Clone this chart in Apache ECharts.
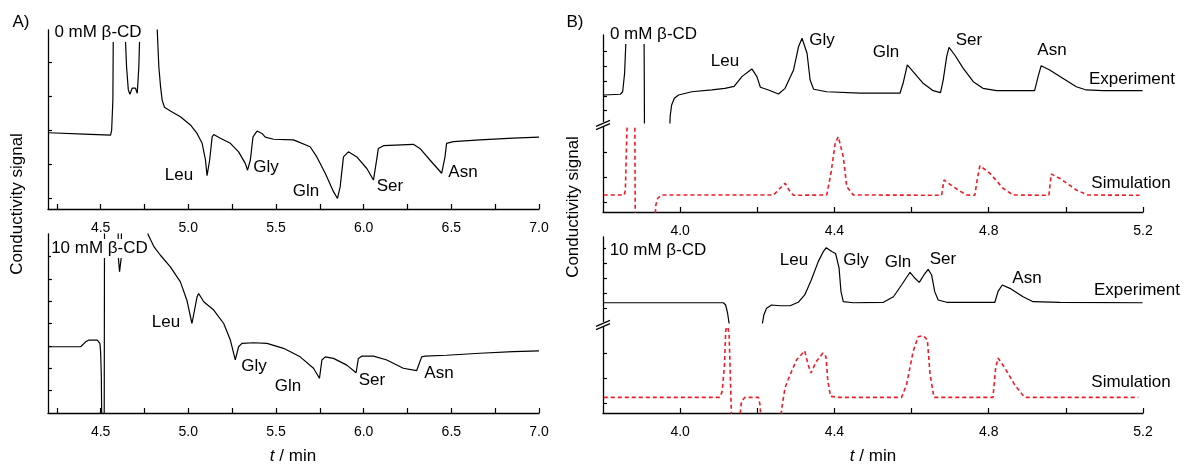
<!DOCTYPE html>
<html>
<head>
<meta charset="utf-8">
<script src="https://cdn.jsdelivr.net/npm/echarts@6/dist/echarts.min.js"></script>
<style>
  html, body { margin: 0; padding: 0; background: #fff; }
  #chart { width: 1184px; height: 467px; }
</style>
</head>
<body>
<div id="chart"></div>
<script>
// Conductivity electropherograms of five amino acids, without and with 10 mM β-CD.
// Each trace is a list of [t (min), conductivity signal (a.u.)].
// Values beyond an axis range run off the plot and are clipped there.

// A) 0 mM β-CD, experiment
const traceA0 = [
  [4.206,1.92],[4.405,1.88],[4.557,1.85],[4.563,2.00],[4.570,2.88],[4.572,4.60],[4.575,9],[4.640,9],
  [4.642,4.60],[4.648,3.86],[4.658,3.18],[4.667,3.05],[4.680,3.23],[4.690,3.27],[4.699,3.23],[4.709,3.08],
  [4.718,3.86],[4.722,4.60],[4.725,9],[4.820,9],[4.823,4.94],[4.832,3.86],[4.842,3.27],[4.851,2.88],
  [4.864,2.67],[4.898,2.56],[4.955,2.39],[5.012,2.15],[5.050,1.90],[5.079,1.61],[5.098,1.12],[5.107,0.66],
  [5.122,1.12],[5.136,1.80],[5.145,1.87],[5.183,1.76],[5.240,1.61],[5.287,1.36],[5.325,1.02],[5.338,0.82],
  [5.354,1.12],[5.369,1.80],[5.392,1.97],[5.420,1.90],[5.439,1.79],[5.486,1.73],[5.600,1.71],[5.695,1.51],
  [5.733,1.21],[5.781,0.73],[5.828,0.19],[5.851,-0.01],[5.866,0.33],[5.885,1.21],[5.913,1.36],[5.961,1.21],
  [6.018,0.87],[6.056,0.53],[6.071,1.02],[6.084,1.46],[6.113,1.54],[6.283,1.58],[6.321,1.46],[6.378,1.12],
  [6.445,0.73],[6.464,1.21],[6.473,1.61],[6.511,1.66],[6.663,1.71],[6.852,1.76],[7.000,1.79]
];

// A) 10 mM β-CD, experiment
const traceA10 = [
  [4.206,2.96],[4.386,2.96],[4.415,3.18],[4.433,3.26],[4.481,3.26],[4.496,3.11],[4.500,2.74],[4.504,1.70],
  [4.506,0],[4.508,-3],[4.520,-3],[4.523,12],[4.598,12],[4.601,6.98],[4.608,6.31],[4.618,6.98],[4.621,12],
  [4.765,12],[4.770,7.99],[4.805,7.42],[4.841,7.05],[4.898,6.53],[4.955,5.86],[4.992,5.04],[5.021,4.00],
  [5.024,3.97],[5.050,5.19],[5.059,5.34],[5.088,4.97],[5.145,4.60],[5.202,4.00],[5.240,3.26],[5.268,2.37],
  [5.287,2.96],[5.306,3.11],[5.373,3.14],[5.449,3.11],[5.543,2.89],[5.638,2.51],[5.714,2.00],[5.748,1.55],
  [5.762,2.37],[5.781,2.51],[5.828,2.44],[5.904,2.14],[5.957,1.80],[5.970,2.44],[5.989,2.54],[6.056,2.54],
  [6.132,2.37],[6.226,2.00],[6.302,1.89],[6.331,2.51],[6.350,2.54],[6.473,2.58],[6.663,2.67],[6.852,2.74],
  [7.000,2.78]
];

// B) 0 mM β-CD, experiment
const traceB0Exp = [
  [3.802,2.06],[3.845,2.11],[3.851,2.28],[3.856,3.53],[3.859,5.44],[3.861,9],[3.906,9],[3.908,-3],
  [3.971,-3],[3.974,0.59],[3.978,1.39],[3.985,1.84],[3.996,2.06],[4.030,2.28],[4.082,2.40],[4.116,2.51],
  [4.140,2.64],[4.160,3.30],[4.186,3.82],[4.199,3.30],[4.208,2.58],[4.229,2.40],[4.255,2.13],[4.272,2.51],
  [4.294,3.75],[4.307,5.32],[4.316,5.89],[4.329,4.88],[4.337,3.07],[4.346,2.45],[4.380,2.28],[4.466,2.18],
  [4.570,2.18],[4.578,2.85],[4.589,4.09],[4.604,3.64],[4.630,2.85],[4.656,2.35],[4.675,2.22],[4.682,3.07],
  [4.691,4.65],[4.697,5.28],[4.712,4.76],[4.734,3.86],[4.760,2.96],[4.785,2.51],[4.820,2.35],[4.919,2.35],
  [4.928,3.30],[4.936,4.04],[4.958,3.75],[4.992,3.19],[5.027,2.62],[5.053,2.40],[5.096,2.35],[5.199,2.35]
];

// B) 0 mM β-CD, simulation
const traceB0Sim = [
  [3.802,1.27],[3.855,1.27],[3.858,1.47],[3.862,3.87],[3.864,4.07],[3.866,6],[3.882,6],[3.884,-1],
  [3.934,-1],[3.936,0.60],[3.937,0.87],[3.942,1.14],[3.952,1.27],[4.151,1.27],[4.242,1.27],[4.259,1.54],
  [4.272,1.74],[4.285,1.40],[4.294,1.26],[4.380,1.27],[4.391,2.14],[4.402,3.34],[4.410,3.60],[4.423,2.80],
  [4.432,1.60],[4.449,1.27],[4.678,1.26],[4.684,1.87],[4.708,1.60],[4.742,1.27],[4.764,1.26],[4.770,1.87],
  [4.777,2.44],[4.803,2.14],[4.837,1.54],[4.863,1.27],[4.956,1.26],[4.962,2.11],[4.984,1.94],[5.027,1.47],
  [5.057,1.27],[5.191,1.26]
];

// B) 10 mM β-CD, experiment
const traceB10Exp = [
  [3.802,1.35],[4.112,1.35],[4.118,1.20],[4.123,0.65],[4.127,-0.02],[4.129,-1.5],[4.212,-1.5],[4.213,-0.07],
  [4.217,0.53],[4.224,0.98],[4.237,1.20],[4.259,1.15],[4.285,1.15],[4.306,1.38],[4.323,1.87],[4.340,2.87],
  [4.358,4.09],[4.371,4.75],[4.379,5.02],[4.393,4.77],[4.403,4.63],[4.408,4.67],[4.412,3.67],[4.417,2.09],
  [4.423,1.42],[4.449,1.35],[4.527,1.38],[4.553,1.75],[4.574,2.53],[4.596,3.38],[4.609,2.98],[4.620,2.71],
  [4.632,3.20],[4.643,3.58],[4.652,3.20],[4.660,2.09],[4.669,1.53],[4.691,1.38],[4.816,1.38],[4.824,2.09],
  [4.835,2.53],[4.855,2.31],[4.889,1.75],[4.915,1.42],[4.984,1.38],[5.199,1.35]
];

// B) 10 mM β-CD, simulation
const traceB10Sim = [
  [3.802,1.23],[4.103,1.23],[4.109,1.47],[4.115,2.54],[4.118,3.87],[4.122,4.22],[4.127,3.74],[4.130,2.14],
  [4.133,0.47],[4.135,-0.5],[4.154,-0.5],[4.155,0.47],[4.159,1.07],[4.168,1.23],[4.203,1.23],[4.207,0.94],
  [4.209,0.47],[4.210,-0.5],[4.260,-0.5],[4.261,0.47],[4.265,0.94],[4.272,1.62],[4.285,2.14],[4.302,2.74],
  [4.323,3.10],[4.332,2.54],[4.339,2.21],[4.353,2.67],[4.370,3.01],[4.378,2.87],[4.383,1.87],[4.390,1.27],
  [4.410,1.23],[4.574,1.23],[4.587,1.74],[4.604,3.07],[4.617,3.67],[4.630,3.71],[4.641,3.54],[4.648,2.14],
  [4.658,1.23],[4.811,1.23],[4.818,2.41],[4.824,2.81],[4.842,2.41],[4.867,1.74],[4.893,1.23],[5.188,1.23]
];

// Time axes: tick positions and labelled values
const ticksA = [4.25,4.5,4.75,5.0,5.25,5.5,5.75,6.0,6.25,6.5,6.75,7.0];
const labelsA = [4.5,5.0,5.5,6.0,6.5,7.0];
const ticksB = [4.0,4.2,4.4,4.6,4.8,5.0,5.2];
const labelsB = [4.0,4.4,4.8,5.2];

const FONT = 'Liberation Sans, Arial, Helvetica, sans-serif';
const INK = '#000';
const SIM_RED = '#ee1c25';

const grids = [
  { left: 48,  top: 30,  width: 491, height: 179 },  // A, 0 mM
  { left: 48,  top: 234, width: 491, height: 179 },  // A, 10 mM
  { left: 603, top: 35,  width: 540, height: 88 },   // B, 0 mM experiment
  { left: 603, top: 127, width: 540, height: 85 },   // B, 0 mM simulation
  { left: 603, top: 237, width: 540, height: 86 },   // B, 10 mM experiment
  { left: 603, top: 327, width: 540, height: 86 }    // B, 10 mM simulation
];

function timeAxis(gridIndex, min, max, ticks, labels, visible) {
  return {
    type: 'value', gridIndex, min, max, show: visible,
    axisLine: { show: true, onZero: false, lineStyle: { color: INK, width: 1.3 } },
    axisTick: { show: true, inside: true, length: 5, customValues: ticks, lineStyle: { color: INK, width: 1.2 } },
    axisLabel: { show: true, customValues: labels, margin: 12, color: INK, fontFamily: FONT, fontSize: 14,
                 formatter: v => Number(v).toFixed(1) },
    splitLine: { show: false }
  };
}
function signalAxis(gridIndex, min, max, ticks) {
  return {
    type: 'value', gridIndex, min, max,
    axisLine: { show: true, onZero: false, lineStyle: { color: INK, width: 1.3 } },
    axisTick: { show: true, inside: true, length: 4, customValues: ticks, lineStyle: { color: INK, width: 1.2 } },
    axisLabel: { show: false },
    splitLine: { show: false }
  };
}

const xAxes = [
  timeAxis(0, 4.2, 7.0, ticksA, labelsA, true),
  timeAxis(1, 4.2, 7.0, ticksA, labelsA, true),
  timeAxis(2, 3.8, 5.2, ticksB, labelsB, false),
  timeAxis(3, 3.8, 5.2, ticksB, labelsB, true),
  timeAxis(4, 3.8, 5.2, ticksB, labelsB, false),
  timeAxis(5, 3.8, 5.2, ticksB, labelsB, true)
];
const yAxes = [
  signalAxis(0, -0.32, 4.94, [0,1,2,3,4]),
  signalAxis(1, 0, 8, [1,2,3,4,5,6,7]),
  signalAxis(2, 0.17, 6.11, [1,2,3,4,5]),
  signalAxis(3, 0.59, 3.99, [1,2,3]),
  signalAxis(4, 0, 5.73, [1,2,3,4,5]),
  signalAxis(5, 0.6, 4.06, [1,2,3])
];

function trace(data, idx, dashed) {
  return {
    type: 'line', data, xAxisIndex: idx, yAxisIndex: idx,
    showSymbol: false, symbol: 'none', clip: true, animation: false, silent: true,
    lineStyle: dashed ? { color: SIM_RED, width: 1.6, type: [4, 3] } : { color: INK, width: 1.2 }
  };
}

// Annotations: [text, x, y] centres in px
const notes = [
  ['Leu', 179, 175], ['Gly', 266, 167], ['Gln', 306, 191], ['Ser', 390, 186], ['Asn', 463, 172],
  ['Leu', 166, 322], ['Gly', 254, 366], ['Gln', 288, 386], ['Ser', 372, 380], ['Asn', 439, 373],
  ['Leu', 725, 61], ['Gly', 822, 40], ['Gln', 886, 52], ['Ser', 969, 40], ['Asn', 1052, 50],
  ['Experiment', 1132, 79], ['Simulation', 1131, 183],
  ['Leu', 794, 260], ['Gly', 856, 260], ['Gln', 898, 262], ['Ser', 943, 259], ['Asn', 1027, 278],
  ['Experiment', 1137, 290], ['Simulation', 1131, 382]
];
// Condition tags, drawn on a white box that covers the traces behind them
const tags = [
  ['0 mM β-CD', 52, 22, 92, 20],
  ['10 mM β-CD', 51, 239, 97, 19],
  ['0 mM β-CD', 606, 24, 95, 20],
  ['10 mM β-CD', 606, 241, 104, 19]
];

const txt = (text, x, y, extra) => Object.assign({
  type: 'text', x, y, z: 100,
  style: Object.assign({ text, fill: INK, fontFamily: FONT, fontSize: 17,
    align: 'center', verticalAlign: 'middle', textAlign: 'center', textVerticalAlign: 'middle' }, (extra && extra.style) || {})
}, extra ? { rotation: extra.rotation || 0 } : {});

const graphic = [];
tags.forEach(([t, x, y, w, h]) => {
  graphic.push({ type: 'rect', shape: { x, y, width: w, height: h }, style: { fill: '#fff' }, z: 99 });
  graphic.push(txt(t, x + w / 2, y + h / 2));
});
notes.forEach(([t, x, y]) => graphic.push(txt(t, x, y)));
graphic.push(txt('A)', 21, 22));
graphic.push(txt('B)', 575, 22));
const axisTitle = (x, y) => ({
  type: 'text', x, y, z: 100,
  style: { text: '{i|t} / min', fill: INK, fontFamily: FONT, fontSize: 17,
    align: 'center', verticalAlign: 'middle', textAlign: 'center', textVerticalAlign: 'middle',
    rich: { i: { fontStyle: 'italic', fontFamily: FONT, fontSize: 17, fill: INK } } }
});
graphic.push(axisTitle(293, 456));
graphic.push(axisTitle(873, 456));
graphic.push(txt('Conductivity signal', 17, 204, { rotation: Math.PI / 2 }));
graphic.push(txt('Conductivity signal', 573, 207, { rotation: Math.PI / 2 }));

// Axis-break marks on the B signal axes
[125, 325].forEach(yc => {
  graphic.push({ type: 'rect', shape: { x: 598, y: yc - 3, width: 10, height: 5 }, style: { fill: '#fff' }, z: 98 });
  [-1.6, 1.6].forEach(d => graphic.push({
    type: 'line', z: 100,
    shape: { x1: 596, y1: yc + d + 3, x2: 610, y2: yc + d - 3 },
    style: { stroke: INK, lineWidth: 1.3 }
  }));
});

const chart = echarts.init(document.getElementById('chart'), null, { renderer: 'canvas' });
chart.setOption({
  animation: false,
  backgroundColor: '#fff',
  textStyle: { fontFamily: FONT },
  grid: grids,
  xAxis: xAxes,
  yAxis: yAxes,
  series: [
    trace(traceA0, 0, false),
    trace(traceA10, 1, false),
    trace(traceB0Exp, 2, false),
    trace(traceB0Sim, 3, true),
    trace(traceB10Exp, 4, false),
    trace(traceB10Sim, 5, true)
  ],
  graphic
});
</script>
</body>
</html>
